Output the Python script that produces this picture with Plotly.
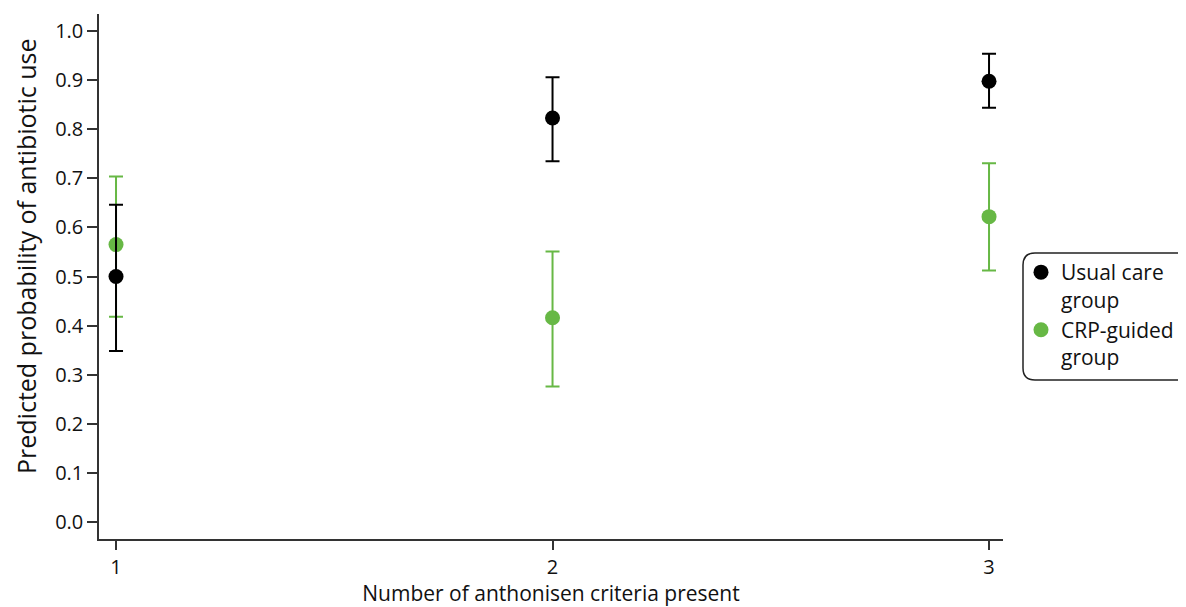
import plotly.graph_objects as go

# Data
criteria = [1, 2, 3]
usual_care = [0.50, 0.823, 0.898]
usual_upper = [0.646, 0.906, 0.954]
usual_lower = [0.348, 0.735, 0.844]
crp_guided = [0.565, 0.416, 0.622]
crp_upper = [0.704, 0.551, 0.731]
crp_lower = [0.418, 0.276, 0.512]
y_ticks = [0.0, 0.1, 0.2, 0.3, 0.4, 0.5, 0.6, 0.7, 0.8, 0.9, 1.0]
series_names = ["Usual care<br>group", "CRP-guided<br>group"]
x_title = "Number of anthonisen criteria present"
y_title = "Predicted probability of antibiotic use"

FONT = "Open Sans"
BLACK = "#000000"
GREEN = "#67b845"

def err(vals, up, lo):
    return dict(type="data", symmetric=False,
                array=[u - v for u, v in zip(up, vals)],
                arrayminus=[v - l for v, l in zip(vals, lo)])

fig = go.Figure()
fig.add_trace(go.Scatter(
    x=criteria, y=crp_guided, mode="markers", name=series_names[1],
    marker=dict(color=GREEN, size=15),
    error_y=dict(**err(crp_guided, crp_upper, crp_lower), color=GREEN, thickness=2, width=7),
))
fig.add_trace(go.Scatter(
    x=criteria, y=usual_care, mode="markers", name=series_names[0],
    marker=dict(color=BLACK, size=15),
    error_y=dict(**err(usual_care, usual_upper, usual_lower), color=BLACK, thickness=2, width=7),
))

OFF = 8  # page body margin
W, H = 1186 - OFF, 607 - OFF
L, T = 99 - OFF, 14 - OFF
pw, ph = 904, 525
R, B = W - L - pw, H - T - ph

def px(x):
    return (x - OFF - L) / pw

def py(y):
    return (T + ph - (y - OFF)) / ph

# rounded legend box
x0, x1, y0, y1, r = 1023, 1200, 253, 380, 12
path = (f"M {px(x0 + r)},{py(y0)} L {px(x1)},{py(y0)} L {px(x1)},{py(y1)} "
        f"L {px(x0 + r)},{py(y1)} Q {px(x0)},{py(y1)} {px(x0)},{py(y1 - r)} "
        f"L {px(x0)},{py(y0 + r)} Q {px(x0)},{py(y0)} {px(x0 + r)},{py(y0)} Z")
fig.add_shape(type="path", xref="paper", yref="paper", path=path,
              line=dict(color="#222222", width=1.5))

fig.add_annotation(text=y_title, textangle=-90, xref="paper", yref="paper",
                   x=px(26), y=py(256), xanchor="center", yanchor="middle",
                   showarrow=False, borderpad=0,
                   font=dict(family=FONT, size=25, color="#111111"))

axis_common = dict(showline=True, linecolor="#333333", linewidth=1.5,
                   ticks="outside", tickcolor="#333333", tickwidth=1.5,
                   showgrid=False, zeroline=False, automargin=False,
                   tickfont=dict(family=FONT, size=20, color="#111111"))

fig.update_layout(
    width=W, height=H,
    margin=dict(l=L, r=R, t=T, b=B),
    plot_bgcolor="white", paper_bgcolor="white",
    font=dict(family=FONT, size=20, color="#111111"),
    xaxis=dict(**axis_common, range=[0.961, 3.032], tickvals=criteria,
               ticklen=9,
               title=dict(text=x_title,
                          font=dict(family=FONT, size=21), standoff=8)),
    yaxis=dict(**axis_common, range=[-0.035, 1.035], tickvals=y_ticks,
               tickformat=".1f", ticklen=10),
    legend=dict(x=px(1021), y=py(252), xanchor="left", yanchor="top",
                traceorder="reversed", borderwidth=0, bgcolor="rgba(0,0,0,0)",
                font=dict(family=FONT, size=21, color="#111111"),
                valign="top", tracegroupgap=4),
    showlegend=True,
)

fig.write_html("out.html")
